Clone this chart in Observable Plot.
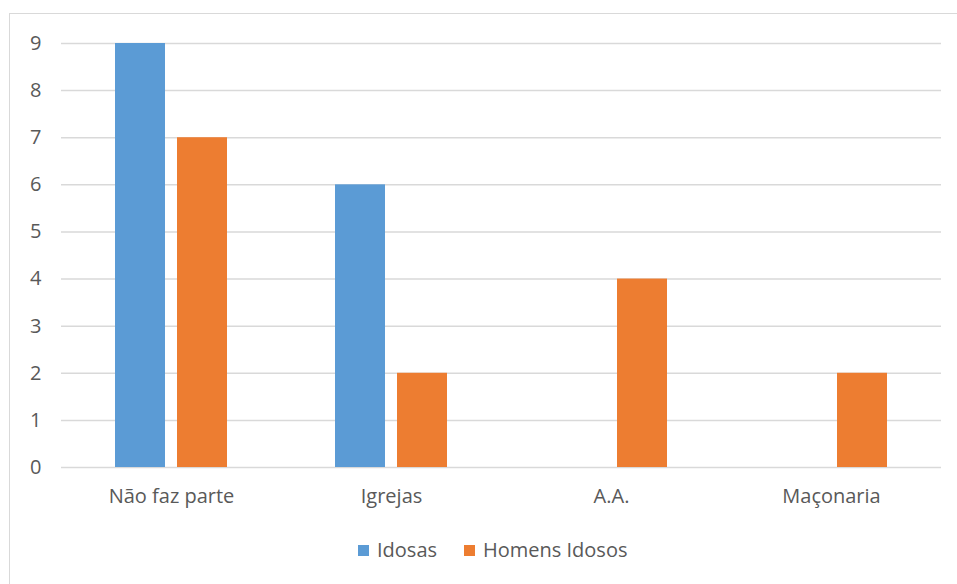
<!DOCTYPE html>
<html>
<head>
<meta charset="utf-8">
<script src="https://cdn.jsdelivr.net/npm/d3@7"></script>
<script src="https://cdn.jsdelivr.net/npm/@observablehq/plot@0.6"></script>
<style>
  body { margin: 0; background: #fff; }
  #wrap { position: relative; width: 957px; height: 584px; overflow: hidden; font-family: "Open Sans", sans-serif; }
  #frame { position: absolute; left: 9px; top: 13px; width: 1000px; height: 700px; border: 1.5px solid #d9d9d9; box-sizing: border-box; }
  #chart { position: absolute; left: 0; top: 0; }
  #legend { position: absolute; top: 536px; left: 0; width: 1000px; font-size: 20px; color: #595959; }
  .item { display: flex; align-items: center; position: absolute; line-height: 28px; }
  .sw { width: 11px; height: 11px; margin-right: 8px; }
</style>
</head>
<body>
<div id="wrap">
  <div id="frame"></div>
  <div id="chart"></div>
  <div id="legend"></div>
</div>
<script>
const categories = ["Não faz parte", "Igrejas", "A.A.", "Maçonaria"];
const series = ["Idosas", "Homens Idosos"];
const idosas = [9, 6, 0, 0];
const homensIdosos = [7, 2, 4, 2];
const colors = ["#5B9BD5", "#ED7D31"];
const yTicks = [0, 1, 2, 3, 4, 5, 6, 7, 8, 9];

const data = [];
categories.forEach((c, i) => {
  data.push({category: c, series: series[0], value: idosas[i]});
  data.push({category: c, series: series[1], value: homensIdosos[i]});
});

const chart = Plot.plot({
  width: 957,
  height: 510,
  marginLeft: 60,
  marginRight: 16,
  marginTop: 43,
  marginBottom: 43,
  style: {fontFamily: "'Open Sans', sans-serif", fontSize: "20px", color: "#595959", background: "transparent"},
  fx: {domain: categories, padding: 0, axis: "bottom", tickSize: 0, tickPadding: 21, label: null},
  x: {domain: series, axis: null, paddingInner: 0.2, paddingOuter: 0.86},
  y: {domain: [0, 9], ticks: yTicks, tickSize: 0, tickPadding: 20, label: null},
  color: {domain: series, range: colors},
  marks: [
    Plot.ruleY(yTicks, {stroke: "#d9d9d9", strokeWidth: 1.5}),
    Plot.barY(data.filter(d => d.value > 0), {fx: "category", x: "series", y: "value", fill: "series"})
  ]
});
document.getElementById("chart").appendChild(chart);

const legend = document.getElementById("legend");
const positions = [358, 464];
series.forEach((s, i) => {
  const it = document.createElement("div");
  it.className = "item";
  it.style.left = positions[i] + "px";
  const sw = document.createElement("div");
  sw.className = "sw";
  sw.style.background = colors[i];
  const t = document.createElement("span");
  t.textContent = s;
  it.appendChild(sw); it.appendChild(t);
  legend.appendChild(it);
});
</script>
</body>
</html>
